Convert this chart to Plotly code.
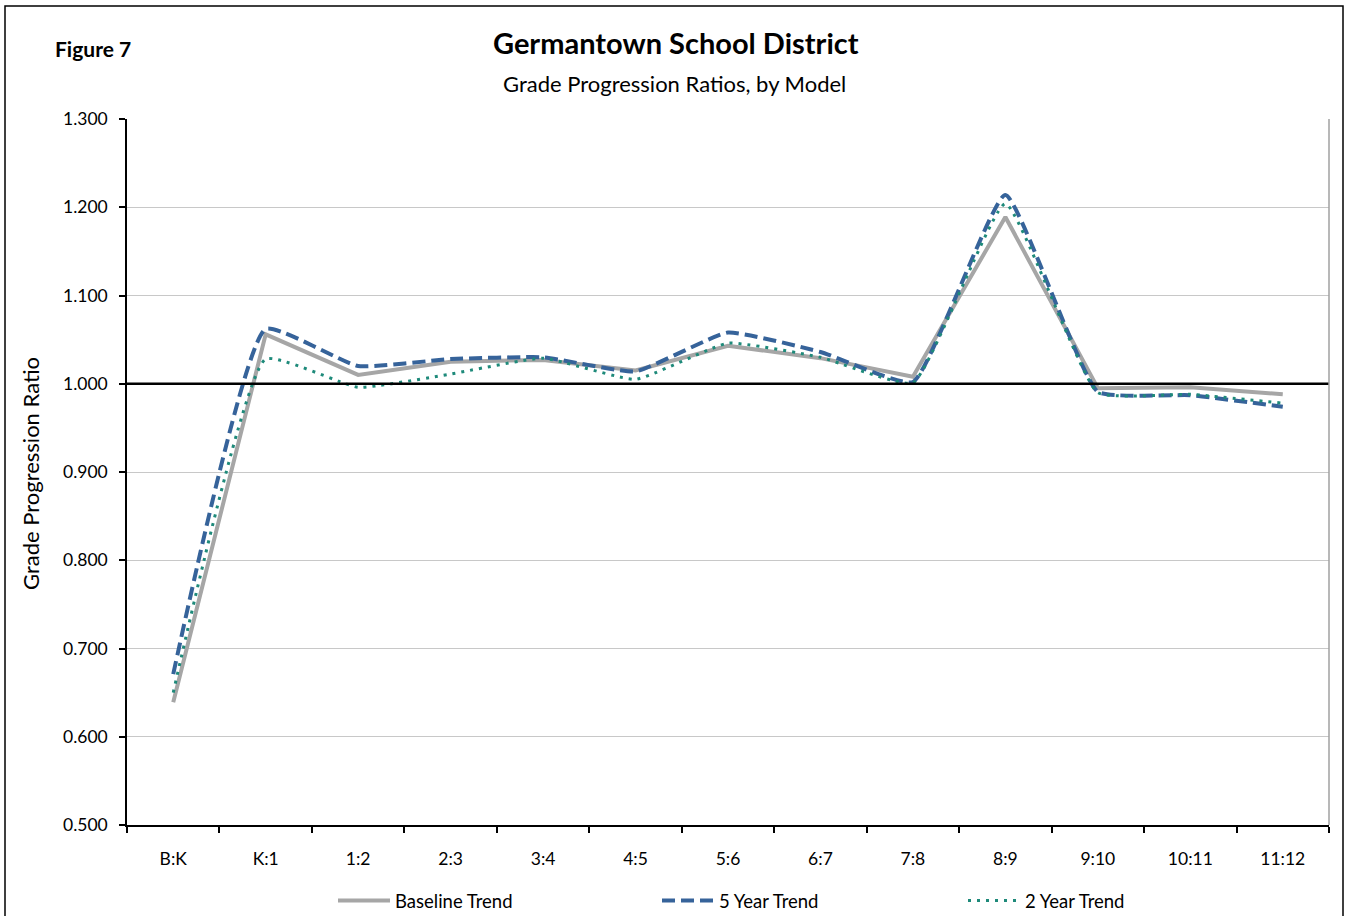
import plotly.graph_objects as go

categories = ["B:K", "K:1", "1:2", "2:3", "3:4", "4:5", "5:6", "6:7", "7:8", "8:9", "9:10", "10:11", "11:12"]
baseline = [0.639, 1.056, 1.010, 1.025, 1.027, 1.015, 1.043, 1.029, 1.008, 1.189, 0.995, 0.996, 0.988]
five_year = [0.671, 1.062, 1.020, 1.028, 1.030, 1.014, 1.058, 1.036, 1.002, 1.214, 0.991, 0.987, 0.974]
two_year = [0.650, 1.028, 0.996, 1.011, 1.029, 1.005, 1.046, 1.030, 1.001, 1.204, 0.990, 0.988, 0.978]
y_ticks = [0.5, 0.6, 0.7, 0.8, 0.9, 1.0, 1.1, 1.2, 1.3]

W, H = 1346, 916
ML, MR, MT, MB = 127, 17, 119, 91
PW, PH = W - ML - MR, H - MT - MB

def px(x):
    return (x - ML) / PW

def py(y):
    return (H - MB - y) / PH

FONT = "Lato"

fig = go.Figure()
fig.add_trace(go.Scatter(x=categories, y=baseline, name="Baseline Trend", mode="lines",
                         line=dict(color="#A6A6A6", width=4), legend="legend"))
fig.add_trace(go.Scatter(x=categories, y=five_year, name="5 Year Trend", mode="lines",
                         line=dict(color="#36639A", width=4, dash="13px,6px", shape="spline", smoothing=0.4),
                         legend="legend2"))
fig.add_trace(go.Scatter(x=categories, y=two_year, name="2 Year Trend", mode="lines",
                         line=dict(color="#1E8A7A", width=3, dash="3px,6px", shape="spline", smoothing=0.4),
                         legend="legend3"))

# reference line at 1.000
fig.add_shape(type="line", xref="paper", yref="y", x0=0, x1=1, y0=1.0, y1=1.0,
              line=dict(color="black", width=2.5), layer="above")
# plot area right border
fig.add_shape(type="line", xref="paper", yref="paper", x0=1, x1=1, y0=0, y1=1,
              line=dict(color="#A0A0A0", width=1.5))
# outer chart border
fig.add_shape(type="rect", xref="paper", yref="paper",
              x0=px(5), x1=px(1343), y0=py(6), y1=py(925),
              line=dict(color="black", width=1.5), fillcolor="rgba(0,0,0,0)")

fig.add_annotation(text="<b>Germantown School District</b>", xref="paper", yref="paper",
                   x=px(676), y=py(42), xanchor="center", yanchor="middle", showarrow=False,
                   font=dict(family=FONT, size=29, color="black"))
fig.add_annotation(text="Grade Progression Ratios, by Model", xref="paper", yref="paper",
                   x=px(674), y=py(83), xanchor="center", yanchor="middle", showarrow=False,
                   font=dict(family=FONT, size=22, color="black"))
fig.add_annotation(text="<b>Figure 7</b>", xref="paper", yref="paper",
                   x=px(93), y=py(48), xanchor="center", yanchor="middle", showarrow=False,
                   font=dict(family=FONT, size=21, color="black"))
fig.add_annotation(text="Grade Progression Ratio", xref="paper", yref="paper",
                   x=px(31), y=py(474), xanchor="center", yanchor="middle", showarrow=False,
                   textangle=-90, font=dict(family=FONT, size=22, color="black"))

leg_common = dict(orientation="h", yanchor="middle", y=py(901), bgcolor="rgba(0,0,0,0)",
                  font=dict(family=FONT, size=18.5, color="black"), itemwidth=52)

fig.update_layout(
    width=W, height=H,
    margin=dict(l=ML, r=MR, t=MT, b=MB, autoexpand=False),
    paper_bgcolor="white", plot_bgcolor="white",
    font=dict(family=FONT, size=17, color="black"),
    showlegend=True,
    legend=dict(x=px(333), xanchor="left", **leg_common),
    legend2=dict(x=px(657), xanchor="left", **leg_common),
    legend3=dict(x=px(963), xanchor="left", **leg_common),
    xaxis=dict(type="category", categoryorder="array", categoryarray=categories,
               showline=True, linecolor="black", linewidth=1.5,
               ticks="outside", tickson="boundaries", ticklen=6, tickcolor="black", tickwidth=1.5,
               showgrid=False, tickfont=dict(family=FONT, size=17.5), ticklabelstandoff=17,
               range=[-0.5, len(categories) - 0.5], automargin=False),
    yaxis=dict(range=[0.5, 1.3], tickvals=y_ticks, tickformat=".3f",
               showline=True, linecolor="black", linewidth=1.5,
               ticks="outside", ticklen=6, tickcolor="black", tickwidth=1.5,
               showgrid=True, gridcolor="#C8C8C8", gridwidth=1.2, zeroline=False,
               tickfont=dict(family=FONT, size=17.5), ticklabelstandoff=8, automargin=False),
)

fig.write_html("out.html", config={"displayModeBar": False},
               post_script="document.body.style.margin='0px';")
